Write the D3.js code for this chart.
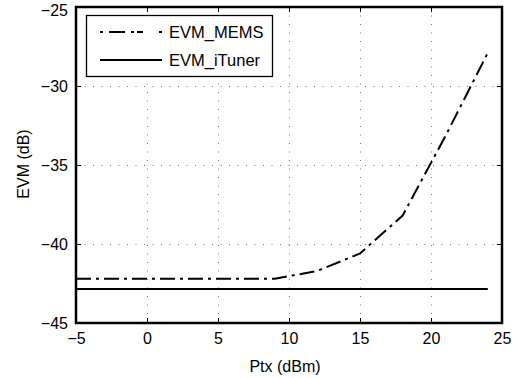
<!DOCTYPE html>
<html>
<head>
<meta charset="utf-8">
<script src="https://cdn.jsdelivr.net/npm/d3@7"></script>
<style>
  body { margin: 0; background: #fff; }
  text { font-family: "Liberation Sans", Arial, sans-serif; }
</style>
</head>
<body>
<svg id="chart" width="527" height="378"></svg>
<script>
// data
const xTicks = [-5, 0, 5, 10, 15, 20, 25];
const yTicks = [-45, -40, -35, -30, -25];
const memsX = [-5, 9, 12, 15, 18, 21, 24];
const memsY = [-42.2, -42.2, -41.7, -40.6, -38.2, -33.2, -27.9];
const itunerX = [-5, 24];
const itunerY = [-42.85, -42.85];
const seriesNames = ["EVM_MEMS", "EVM_iTuner"];

const pLeft = 76, pRight = 502, pTop = 7, pBottom = 323;
const svg = d3.select("#chart");

const x = d3.scaleLinear().domain([-5, 25]).range([pLeft, pRight]);
const y = d3.scaleLinear().domain([-45, -25]).range([pBottom, pTop]);

// dotted grid
const grid = svg.append("g").attr("stroke", "#777").attr("stroke-width", 1)
    .attr("stroke-dasharray", "1,7.5");
grid.selectAll("line.gx").data(xTicks.slice(1, -1)).enter().append("line")
    .attr("x1", d => Math.round(x(d)) + 0.5).attr("x2", d => Math.round(x(d)) + 0.5)
    .attr("y1", pTop).attr("y2", pBottom);
grid.selectAll("line.gy").data(yTicks.slice(1, -1)).enter().append("line")
    .attr("y1", d => Math.round(y(d)) + 0.5).attr("y2", d => Math.round(y(d)) + 0.5)
    .attr("x1", pLeft).attr("x2", pRight);

// axes, ticks pointing inward
const fmt = d => d < 0 ? "\u2212" + Math.abs(d) : String(d);
const axB = svg.append("g").attr("transform", `translate(0,${pBottom})`)
    .call(d3.axisBottom(x).tickValues(xTicks).tickSize(-5).tickPadding(10).tickFormat(fmt));
const axT = svg.append("g").attr("transform", `translate(0,${pTop})`)
    .call(d3.axisTop(x).tickValues(xTicks).tickSize(-5).tickFormat(""));
const axL = svg.append("g").attr("transform", `translate(${pLeft},0)`)
    .call(d3.axisLeft(y).tickValues(yTicks).tickSize(-5).tickPadding(8).tickFormat(fmt));
const axR = svg.append("g").attr("transform", `translate(${pRight},0)`)
    .call(d3.axisRight(y).tickValues(yTicks).tickSize(-5).tickFormat(""));
[axB, axT, axL, axR].forEach(a => {
    a.select(".domain").remove();
    a.selectAll(".tick line").attr("stroke", "#000").attr("stroke-width", 1);
    a.selectAll(".tick text").attr("fill", "#000").style("font-size", "16px")
        .style("font-family", "'Liberation Sans', Arial, sans-serif");
});
// keep the top label inside the page
axL.selectAll(".tick text").filter(d => d === -25).attr("dy", "0.5em");

// plot box
svg.append("rect").attr("x", pLeft).attr("y", pTop)
    .attr("width", pRight - pLeft).attr("height", pBottom - pTop)
    .attr("fill", "none").attr("stroke", "#000").attr("stroke-width", 2.5);

// lines
const line = d3.line().x(d => x(d[0])).y(d => y(d[1]));
svg.append("path").datum(memsX.map((v, i) => [v, memsY[i]]))
    .attr("d", line).attr("fill", "none").attr("stroke", "#000")
    .attr("stroke-width", 2).attr("stroke-dasharray", "15,5,3,5");
svg.append("path").datum(itunerX.map((v, i) => [v, itunerY[i]]))
    .attr("d", line).attr("fill", "none").attr("stroke", "#000")
    .attr("stroke-width", 2);

// legend
const lg = svg.append("g");
lg.append("rect").attr("x", 86.5).attr("y", 15.5).attr("width", 186).attr("height", 61)
    .attr("fill", "#fff").attr("stroke", "#000").attr("stroke-width", 1.3);
const dashes = ["3,6,16,6,3", null];
seriesNames.forEach((name, i) => {
    const ly = 32 + i * 28;
    lg.append("line").attr("x1", 100).attr("x2", 162).attr("y1", ly).attr("y2", ly)
        .attr("stroke", "#000").attr("stroke-width", 2)
        .attr("stroke-dasharray", dashes[i]);
    lg.append("text").attr("x", 169).attr("y", ly + 6).text(name)
        .style("font-size", "16.5px").attr("fill", "#000");
});

// axis titles
svg.append("text").attr("x", (pLeft + pRight) / 2 - 4).attr("y", 372)
    .attr("text-anchor", "middle").style("font-size", "16px").text("Ptx (dBm)");
svg.append("text").attr("transform", `translate(29,${(pTop + pBottom) / 2 - 1}) rotate(-90)`)
    .attr("text-anchor", "middle").style("font-size", "16px").text("EVM (dB)");
</script>
</body>
</html>
